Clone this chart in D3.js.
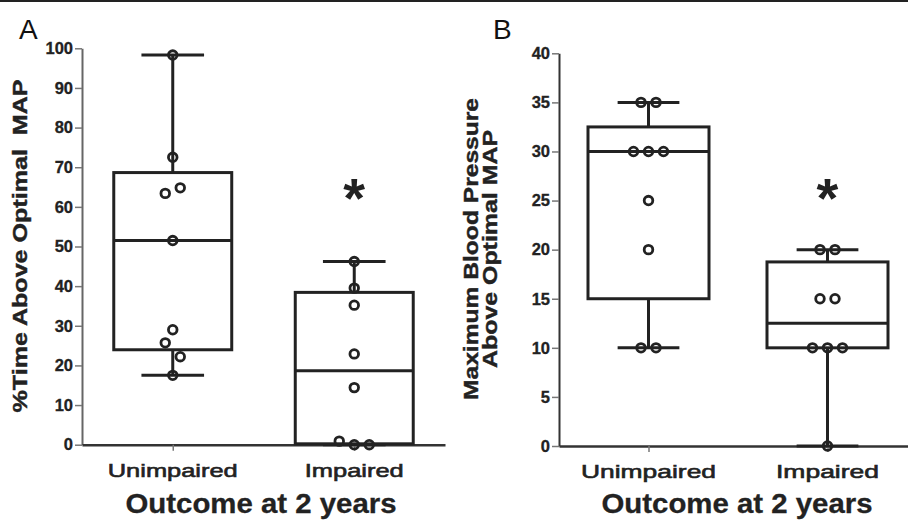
<!DOCTYPE html>
<html>
<head>
<meta charset="utf-8">
<script src="https://cdn.jsdelivr.net/npm/d3@7"></script>
<style>
  html, body { margin: 0; padding: 0; background: #fff; }
  svg { display: block; }
  text { font-family: "Liberation Sans", Arial, Helvetica, sans-serif; }
</style>
</head>
<body>
<svg id="chart" width="908" height="520"></svg>
<script>
// ---------------- data ----------------
const categories = ["Unimpaired", "Impaired"];

// Panel A: % time above optimal MAP
const timeAboveUnimpaired = [98.3, 72.5, 63.4, 64.8, 51.5, 29.0, 25.7, 22.2, 17.5];
const timeAboveImpaired   = [46.2, 39.5, 35.2, 22.9, 14.4, 0.9, 0, 0];
const ticksA = [0, 10, 20, 30, 40, 50, 60, 70, 80, 90, 100];

// Panel B: maximum blood pressure above optimal MAP
const maxBPUnimpaired = [35, 35, 30, 30, 30, 25, 20, 10, 10];
const maxBPImpaired   = [20, 20, 15, 15, 10, 10, 10, 0];
const ticksB = [0, 5, 10, 15, 20, 25, 30, 35, 40];

const panelLetters = ["A", "B"];
const yTitleA = ["%Time Above Optimal  MAP"];
const yTitleB = ["Maximum Blood Pressure", "Above Optimal MAP"];
const xTitle = "Outcome at 2 years";
const significance = "*";

// ---------------- helpers ----------------
const INK = "#222";
const svg = d3.select("#chart");

// GraphPad-style quantile (type 6)
function q6(sorted, p) {
  const n = sorted.length;
  const h = p * (n + 1);
  const lo = Math.floor(h);
  if (lo < 1) return sorted[0];
  if (lo >= n) return sorted[n - 1];
  return sorted[lo - 1] + (h - lo) * (sorted[lo] - sorted[lo - 1]);
}

// top rule
svg.append("rect").attr("x", 0).attr("y", 0).attr("width", 908).attr("height", 2).attr("fill", INK);

function drawPanel(cfg) {
  const g = svg.append("g");
  const y = d3.scaleLinear().domain(cfg.domain).range([cfg.yBottom, cfg.yTop]);
  const x = d3.scalePoint().domain(categories).range([cfg.xLeft, cfg.xRight]).padding(0.5);
  const step = x.step();

  // y axis
  const ya = g.append("g").attr("transform", `translate(${cfg.xLeft},0)`)
    .call(d3.axisLeft(y).tickValues(cfg.ticks).tickSize(7).tickSizeOuter(0).tickPadding(2));
  ya.select(".domain").attr("stroke", cfg.yAxisColor).attr("stroke-width", 2);
  ya.selectAll(".tick line").attr("stroke", "#777").attr("stroke-width", 1.5);
  ya.selectAll(".tick text")
    .attr("font-size", 16.5).attr("font-weight", "bold").attr("fill", INK)
    .attr("stroke", INK).attr("stroke-width", 0.3)
    .attr("font-family", "Liberation Sans, Arial, sans-serif");

  // x axis
  const xa = g.append("g").attr("transform", `translate(0,${cfg.yBottom})`)
    .call(d3.axisBottom(x).tickSize(6).tickSizeOuter(0));
  xa.select(".domain").attr("stroke", "#333").attr("stroke-width", 2.5);
  xa.selectAll(".tick line").attr("stroke", "#777").attr("stroke-width", 1.5);
  xa.selectAll(".tick text").remove();

  // category labels
  g.selectAll(".catlab").data(categories).enter().append("text")
    .attr("x", d => x(d)).attr("y", cfg.yBottom + 32)
    .attr("text-anchor", "middle").attr("font-size", 19).attr("fill", INK)
    .attr("stroke", INK).attr("stroke-width", 0.6)
    .attr("textLength", (d, i) => cfg.catLen[i]).attr("lengthAdjust", "spacingAndGlyphs")
    .text(d => d);

  // x title
  g.append("text").attr("x", cfg.xTitleX).attr("y", 513)
    .attr("text-anchor", "middle").attr("font-size", 28).attr("font-weight", "bold").attr("fill", INK)
    .attr("stroke", INK).attr("stroke-width", 0.3)
    .attr("textLength", 271).attr("lengthAdjust", "spacingAndGlyphs")
    .text(xTitle);

  // y title
  cfg.yTitle.forEach((t, i) => {
    g.append("text")
      .attr("transform", `translate(${cfg.yTitleX[i]},${cfg.yTitleY}) rotate(-90)`)
      .attr("text-anchor", "middle").attr("font-size", 19.5).attr("font-weight", "bold").attr("fill", INK)
      .attr("stroke", INK).attr("stroke-width", 0.4)
      .style("white-space", "pre")
      .attr("textLength", cfg.yTitleLen[i]).attr("lengthAdjust", "spacingAndGlyphs")
      .text(t);
  });

  // panel letter
  g.append("text").attr("x", cfg.letterX).attr("y", 39)
    .attr("font-size", 28).attr("fill", "#111").text(cfg.letter);

  // boxes
  cfg.series.forEach((vals, i) => {
    const cat = categories[i];
    const cx = x(cat);
    const s = vals.slice().sort((a, b) => a - b);
    const mn = s[0], mx = s[s.length - 1];
    const q1 = q6(s, 0.25), med = q6(s, 0.5), q3 = q6(s, 0.75);
    const bw = step * cfg.boxFrac, cw = step * 0.345;
    const bg = g.append("g").attr("stroke", INK).attr("stroke-width", 3).attr("fill", "none");
    // whiskers
    bg.append("line").attr("x1", cx).attr("x2", cx).attr("y1", y(q3)).attr("y2", y(mx));
    bg.append("line").attr("x1", cx).attr("x2", cx).attr("y1", y(q1)).attr("y2", y(mn));
    bg.append("line").attr("x1", cx - cw / 2).attr("x2", cx + cw / 2).attr("y1", y(mx)).attr("y2", y(mx));
    bg.append("line").attr("x1", cx - cw / 2).attr("x2", cx + cw / 2).attr("y1", y(mn)).attr("y2", y(mn));
    // box
    bg.append("rect").attr("x", cx - bw / 2).attr("width", bw)
      .attr("y", y(q3)).attr("height", y(q1) - y(q3));
    bg.append("line").attr("x1", cx - bw / 2).attr("x2", cx + bw / 2).attr("y1", y(med)).attr("y2", y(med));

    // points: group close values (pixel threshold), spread symmetrically
    const pts = vals.map((v, k) => ({ v, k }));
    const asc = pts.slice().sort((a, b) => a.v - b.v || a.k - b.k);
    const groups = [];
    asc.forEach(p => {
      const last = groups[groups.length - 1];
      if (last && Math.abs(y(last[0].v) - y(p.v)) < 16) last.push(p);
      else groups.push([p]);
    });
    groups.forEach(gr => {
      gr.sort((a, b) => a.k - b.k);
      gr.forEach((p, j) => { p.dx = (j - (gr.length - 1) / 2) * 15; });
    });
    g.append("g").selectAll("circle").data(pts).enter().append("circle")
      .attr("cx", p => cx + p.dx).attr("cy", p => y(p.v)).attr("r", 4.3)
      .attr("fill", "none").attr("stroke", INK).attr("stroke-width", 2.8);

    if (i === 1) {
      g.append("text").attr("x", cx).attr("y", 217)
        .attr("text-anchor", "middle").attr("font-size", 56).attr("font-weight", "bold").attr("fill", INK)
        .text(significance);
    }
  });
}

drawPanel({
  letter: panelLetters[0], letterX: 19,
  domain: [0, 100], ticks: ticksA,
  xLeft: 82, xRight: 445, yBottom: 444.7, yTop: 48.3,
  yAxisColor: "#666",
  series: [timeAboveUnimpaired, timeAboveImpaired],
  boxFrac: 0.65,
  catLen: [130, 99],
  xTitleX: 261,
  yTitle: yTitleA, yTitleX: [27], yTitleY: 246, yTitleLen: [333]
});

drawPanel({
  letter: panelLetters[1], letterX: 493,
  domain: [0, 40], ticks: ticksB,
  xLeft: 559, xRight: 917, yBottom: 446, yTop: 53.3,
  yAxisColor: "#333",
  series: [maxBPUnimpaired, maxBPImpaired],
  boxFrac: 0.676,
  catLen: [135, 103],
  xTitleX: 737,
  yTitle: yTitleB, yTitleX: [478, 497], yTitleY: 249, yTitleLen: [302, 238]
});
</script>
</body>
</html>
